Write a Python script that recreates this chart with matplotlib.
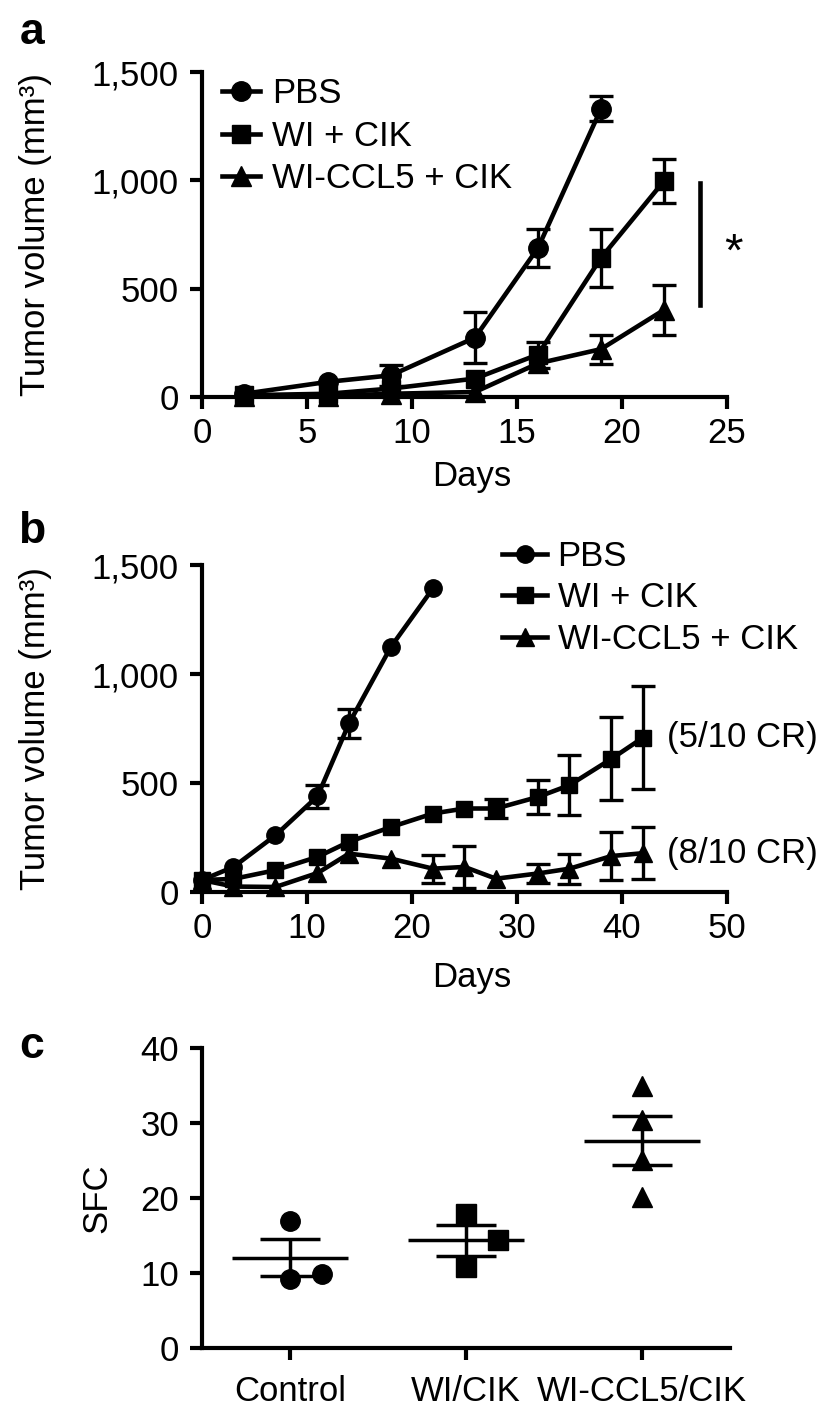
import matplotlib
matplotlib.use("Agg")
import matplotlib.pyplot as plt
import numpy as np

plt.rcParams['font.family'] = ['Liberation Sans', 'DejaVu Sans']

nan = np.nan

# ---------------- data ----------------
# Panel a
days_a = [2, 6, 9, 13, 16, 19, 22]
pbs_a = [15, 70, 100, 274, 688, 1330]
pbs_a_sem = [nan, nan, 47, 118, 88, 58]
wi_a = [8, 15, 39, 85, 196, 642, 997]
wi_a_sem = [nan, nan, nan, nan, 60, 133, 102]
ccl5_a = [5, 5, 15, 23, 155, 221, 402]
ccl5_a_sem = [nan, nan, nan, nan, nan, 67, 115]

# Panel b
days_b = [0, 3, 7, 11, 14, 18, 22, 25, 28, 32, 35, 39, 42]
pbs_b = [55, 115, 260, 439, 773, 1125, 1393]
pbs_b_sem = [nan, nan, nan, 53, 65, nan, nan]
wi_b = [55, 60, 100, 161, 230, 298, 360, 383, 383, 436, 490, 611, 708]
wi_b_sem = [nan, nan, nan, nan, nan, nan, nan, nan, 45, 78, 138, 190, 236]
ccl5_b = [55, 25, 23, 87, 176, 153, 107, 115, 61, 85, 107, 165, 178]
ccl5_b_sem = [nan, nan, nan, nan, nan, nan, 65, 98, nan, 45, 69, 108, 118]
cr_labels = ['(5/10 CR)', '(8/10 CR)']

# Panel c
groups_c = ['Control', 'WI/CIK', 'WI-CCL5/CIK']
control_sfc = [17.0, 9.2, 9.9]
wi_sfc = [17.9, 14.4, 10.8]
ccl5_sfc = [35.0, 30.4, 25.1, 20.1]
control_jit = [0, 0, 0.18]
wi_jit = [0, 0.18, 0]
ccl5_jit = [0, 0, 0, 0]

series_labels = ['PBS', 'WI + CIK', 'WI-CCL5 + CIK']
vol_ticks = [0, 500, 1000, 1500]
vol_ticklabels = ['0', '500', '1,000', '1,500']
days_a_ticks = [0, 5, 10, 15, 20, 25]
days_b_ticks = [0, 10, 20, 30, 40, 50]
sfc_ticks = [0, 10, 20, 30, 40]

# ---------------- figure ----------------
W, H = 820, 1410
fig = plt.figure(figsize=(W / 100, H / 100), dpi=100)

FS = 25
LW = 3.3
SP = 3


def style_axis(ax, xpad=6, ypad=8):
    for s in ['top', 'right']:
        ax.spines[s].set_visible(False)
    for s in ['left', 'bottom']:
        ax.spines[s].set_linewidth(SP)
    ax.tick_params(axis='both', width=SP, length=8.6, labelsize=FS)
    ax.tick_params(axis='x', pad=xpad)
    ax.tick_params(axis='y', pad=ypad)


def px_axes(l, t, r, b):
    return fig.add_axes([l / W, 1 - b / H, (r - l) / W, (b - t) / H])


def draw_series(ax, x, y, e, m, ms):
    eb = ax.errorbar(x, y, yerr=e, fmt='-' + m, color='black', lw=LW, ms=ms,
                     capsize=8.5, elinewidth=2.4, capthick=2.4, clip_on=False, zorder=3)
    for art in list(eb.lines[1]) + list(eb.lines[2]):
        art.set_clip_on(False)
    return eb.lines[0]


# ---- Panel a ----
ax_a = px_axes(202, 72, 727, 397)
style_axis(ax_a)
handles = [draw_series(ax_a, days_a[:len(pbs_a)], pbs_a, pbs_a_sem, 'o', 14),
           draw_series(ax_a, days_a, wi_a, wi_a_sem, 's', 13.5),
           draw_series(ax_a, days_a, ccl5_a, ccl5_a_sem, '^', 14)]
ax_a.set_xlim(0, 25)
ax_a.set_ylim(0, 1500)
ax_a.set_xticks(days_a_ticks)
ax_a.set_yticks(vol_ticks)
ax_a.set_yticklabels(vol_ticklabels)
ax_a.set_xlabel('Days', fontsize=FS)
ax_a.xaxis.set_label_coords(0.514, -0.195)
ax_a.set_ylabel('Tumor volume (mm³)', fontsize=FS)
ax_a.yaxis.set_label_coords(-0.286, 0.5)
ax_a.legend(handles, series_labels, loc='upper left', bbox_to_anchor=(222 / W, 1 - 77 / H),
            bbox_transform=fig.transFigure, frameon=False, fontsize=FS, handlelength=1.1,
            handletextpad=0.35, labelspacing=0.28, borderpad=0, borderaxespad=0)
sig_x, sig_lo, sig_hi, star_y = 23.7, 425, 990, 660
ax_a.plot([sig_x, sig_x], [sig_lo, sig_hi], color='black', lw=LW, clip_on=False)
ax_a.text(25.3, star_y, '*', fontsize=34, ha='center', va='center')

# ---- Panel b ----
ax_b = px_axes(202, 565, 727, 892)
style_axis(ax_b)
handles_b = [draw_series(ax_b, days_b[:len(pbs_b)], pbs_b, pbs_b_sem, 'o', 12.5),
             draw_series(ax_b, days_b, wi_b, wi_b_sem, 's', 12),
             draw_series(ax_b, days_b, ccl5_b, ccl5_b_sem, '^', 12.5)]
ax_b.set_xlim(0, 50)
ax_b.set_ylim(0, 1500)
ax_b.set_xticks(days_b_ticks)
ax_b.set_yticks(vol_ticks)
ax_b.set_yticklabels(vol_ticklabels)
ax_b.set_xlabel('Days', fontsize=FS)
ax_b.xaxis.set_label_coords(0.514, -0.21)
ax_b.set_ylabel('Tumor volume (mm³)', fontsize=FS)
ax_b.yaxis.set_label_coords(-0.286, 0.5)
ax_b.legend(handles_b, series_labels, loc='upper left', bbox_to_anchor=(502 / W, 1 - 540 / H),
            bbox_transform=fig.transFigure, frameon=False, fontsize=FS, handlelength=1.3,
            handletextpad=0.3, labelspacing=0.24, borderpad=0, borderaxespad=0)
ax_b.text(44.3, wi_b[-1], cr_labels[0], fontsize=FS, ha='left', va='center')
ax_b.text(44.3, ccl5_b[-1], cr_labels[1], fontsize=FS, ha='left', va='center')

# ---- Panel c ----
ax_c = px_axes(202, 1048, 730, 1348)
style_axis(ax_c, xpad=11)
for i, (vals, jit, m) in enumerate([(control_sfc, control_jit, 'o'),
                                    (wi_sfc, wi_jit, 's'),
                                    (ccl5_sfc, ccl5_jit, '^')]):
    vals = np.array(vals)
    mean = vals.mean()
    sem = vals.std(ddof=1) / np.sqrt(len(vals))
    ax_c.hlines(mean, i - 0.33, i + 0.33, color='black', lw=2.5, zorder=2)
    ax_c.errorbar([i], [mean], yerr=[sem], fmt='none', ecolor='black', elinewidth=2.5,
                  capsize=21.6, capthick=2.5, zorder=2)
    ax_c.plot(np.array(jit) + i, vals, linestyle='none', marker=m, color='black', ms=14, zorder=3)
ax_c.set_xlim(-0.5, 2.5)
ax_c.set_ylim(0, 40)
ax_c.set_xticks(range(len(groups_c)))
ax_c.set_xticklabels(groups_c)
ax_c.set_yticks(sfc_ticks)
ax_c.set_ylabel('SFC', fontsize=FS)
ax_c.yaxis.set_label_coords(-0.167, 0.5)

# Panel letters
for letter, ybase in [('a', 44), ('b', 543), ('c', 1058)]:
    fig.text(32 / W, 1 - ybase / H, letter, fontsize=32, fontweight='bold',
             ha='center', va='baseline')

fig.savefig('out.png', dpi=100)
